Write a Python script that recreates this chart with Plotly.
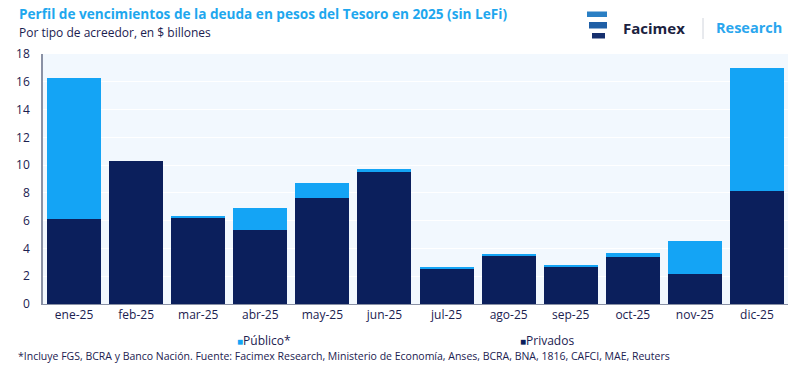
import plotly.graph_objects as go

months = ["ene-25", "feb-25", "mar-25", "abr-25", "may-25", "jun-25",
          "jul-25", "ago-25", "sep-25", "oct-25", "nov-25", "dic-25"]
privados = [6.13, 10.29, 6.21, 5.33, 7.64, 9.48, 2.57, 3.45, 2.69, 3.38, 2.17, 8.17]
publico = [10.13, 0.0, 0.08, 1.57, 1.07, 0.23, 0.12, 0.17, 0.07, 0.26, 2.38, 8.83]
y_ticks = [0, 2, 4, 6, 8, 10, 12, 14, 16, 18]

TITLE = "Perfil de vencimientos de la deuda en pesos del Tesoro en 2025 (sin LeFi)"
SUBTITLE = "Por tipo de acreedor, en $ billones"
FOOTER = ("*Incluye FGS, BCRA y Banco Nación. Fuente: Facimex Research, Ministerio de Economía, "
          "Anses, BCRA, BNA, 1816, CAFCI, MAE, Reuters")

NAVY = "#0b1f5c"
BLUE = "#14a4f5"
TEXT = "#1b2150"
FONT = "Open Sans"

W, H = 800, 381
ML, MR, MT, MB = 43, 12, 54, 77

fig = go.Figure()
fig.add_trace(go.Bar(x=months, y=privados, name="Privados", marker=dict(color=NAVY, line_width=0)))
fig.add_trace(go.Bar(x=months, y=publico, name="Público*", marker=dict(color=BLUE, line_width=0)))

pw = W - ML - MR
ph = H - MT - MB


def px(x):
    return (x - ML) / pw


def py(y):
    return (H - MB - y) / ph


shapes = []
# logo icon (three stacked bars)
for (x0, x1, y0, y1, c) in [(587, 607, 11.5, 17, "#2a7fc4"),
                            (589, 607, 22, 28.5, "#1f5fa6"),
                            (592, 605, 33, 38.5, "#16306e")]:
    shapes.append(dict(type="rect", xref="paper", yref="paper",
                       x0=px(x0), x1=px(x1), y0=py(y1), y1=py(y0),
                       fillcolor=c, line_width=0, layer="above"))
# separator in logo
shapes.append(dict(type="line", xref="paper", yref="paper",
                   x0=px(703), x1=px(703), y0=py(39), y1=py(18),
                   line=dict(color="#d0d4dc", width=1)))

annotations = [
    dict(text="<b>" + TITLE + "</b>", x=px(17), y=py(13), xref="paper", yref="paper",
         xanchor="left", yanchor="middle", showarrow=False,
         font=dict(family=FONT, size=13.6, color="#1ea7ee")),
    dict(text=SUBTITLE, x=px(17), y=py(33), xref="paper", yref="paper",
         xanchor="left", yanchor="middle", showarrow=False,
         font=dict(family=FONT, size=12, color=TEXT)),
    dict(text="<b>Facimex</b>", x=px(621), y=py(28), xref="paper", yref="paper",
         xanchor="left", yanchor="middle", showarrow=False,
         font=dict(family=FONT, size=15, color="#1b2240")),
    dict(text="<b>Research</b>", x=px(714), y=py(28), xref="paper", yref="paper",
         xanchor="left", yanchor="middle", showarrow=False,
         font=dict(family=FONT, size=14.5, color="#2aa6ee")),
    dict(text=FOOTER, x=px(16), y=py(356), xref="paper", yref="paper",
         xanchor="left", yanchor="middle", showarrow=False,
         font=dict(family=FONT, size=10.5, color=TEXT)),
    dict(text='<span style="color:%s;font-size:10px">■</span>Público*' % BLUE,
         x=px(235), y=py(340), xref="paper", yref="paper",
         xanchor="left", yanchor="middle", showarrow=False,
         font=dict(family=FONT, size=12, color=TEXT)),
    dict(text='<span style="color:%s;font-size:10px">■</span>Privados' % NAVY,
         x=px(518), y=py(340), xref="paper", yref="paper",
         xanchor="left", yanchor="middle", showarrow=False,
         font=dict(family=FONT, size=12, color=TEXT)),
]

fig.update_layout(
    width=W, height=H,
    margin=dict(l=ML, r=MR, t=MT, b=MB, pad=0, autoexpand=False),
    barmode="stack",
    bargap=0.13,
    paper_bgcolor="white",
    plot_bgcolor="#f2f8fe",
    font=dict(family=FONT, size=12, color=TEXT),
    showlegend=False,
    xaxis=dict(showgrid=False, showline=True, linecolor="#8a91a5", linewidth=1,
               ticks="", tickfont=dict(size=12, color=TEXT), fixedrange=True,
               automargin=False),
    yaxis=dict(range=[0, 18], tickvals=y_ticks, showgrid=True, gridcolor="#ffffff",
               gridwidth=1, showline=True, linecolor="#8a91a5", linewidth=1.5,
               zeroline=False, ticks="", tickfont=dict(size=12, color=TEXT),
               ticklabelstandoff=9, automargin=False),
    shapes=shapes,
    annotations=annotations,
)

fig.write_html("out.html", config={"displayModeBar": False},
               post_script="document.body.style.margin='0';document.body.style.overflow='hidden';")
